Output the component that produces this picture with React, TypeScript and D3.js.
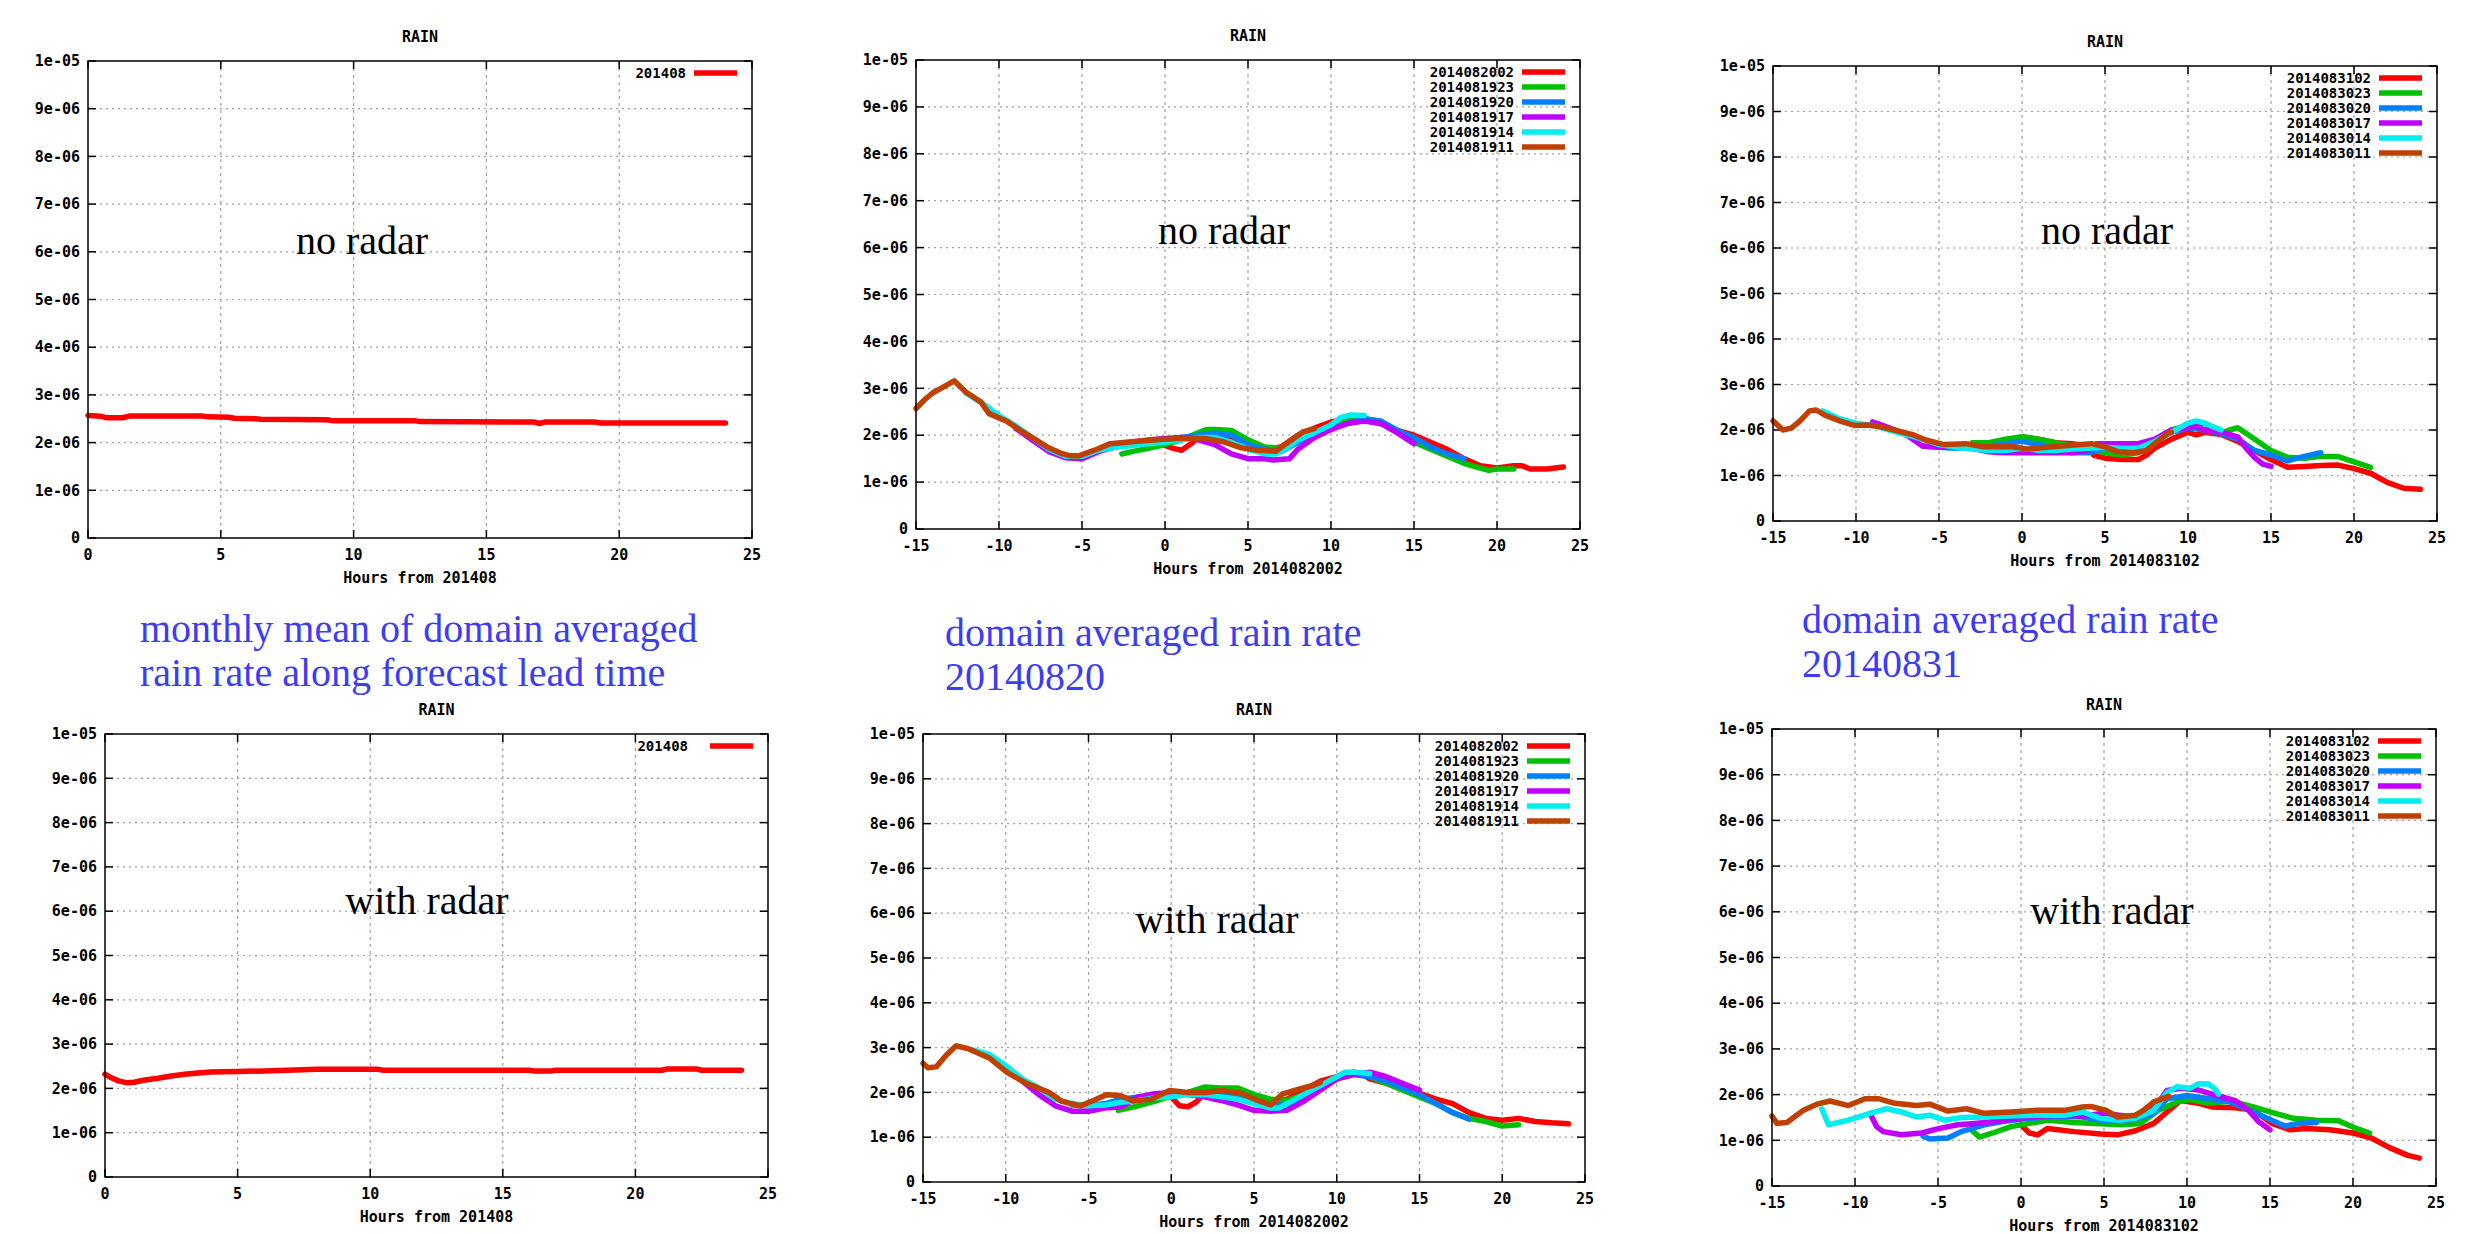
import React from 'react';
import * as d3 from 'd3';

type Pt = [number, number];

// rain rate values are in units of 1e-06, hours from the run start
const yTicks = [0, 1, 2, 3, 4, 5, 6, 7, 8, 9, 10];
const yTickLabels = ['0', '1e-06', '2e-06', '3e-06', '4e-06', '5e-06', '6e-06', '7e-06', '8e-06', '9e-06', '1e-05'];
const monthTicks = [0, 5, 10, 15, 20, 25];
const caseTicks = [-15, -10, -5, 0, 5, 10, 15, 20, 25];

const monthNames = ['201408'];
const aug20Names = ['2014082002', '2014081923', '2014081920', '2014081917', '2014081914', '2014081911'];
const aug31Names = ['2014083102', '2014083023', '2014083020', '2014083017', '2014083014', '2014083011'];
const colors = ['#ff0000', '#00c000', '#0080ff', '#c000ff', '#00eeee', '#c04000'];

const monthNo: Pt[] = [[0, 2.57], [0.5, 2.55], [0.7, 2.52], [1.3, 2.52], [1.6, 2.56], [4.3, 2.56], [4.5, 2.54], [5.3, 2.53], [5.5, 2.51], [6.3, 2.5], [6.5, 2.49], [9, 2.48], [9.2, 2.46], [12.3, 2.46], [12.5, 2.44], [16.8, 2.43], [17, 2.4], [17.2, 2.43], [19.1, 2.43], [19.3, 2.41], [24, 2.41]];
const monthRadar: Pt[] = [[0, 2.32], [0.2, 2.25], [0.5, 2.17], [0.8, 2.13], [1.1, 2.14], [1.5, 2.19], [2, 2.23], [2.5, 2.28], [3, 2.32], [3.5, 2.35], [4, 2.37], [5, 2.38], [6.3, 2.4], [8, 2.43], [10.3, 2.43], [10.5, 2.41], [16, 2.41], [16.2, 2.39], [16.8, 2.39], [17, 2.41], [21, 2.41], [21.2, 2.44], [22.3, 2.44], [22.5, 2.41], [24, 2.41]];

// 20140820, no radar
const n20r02: Pt[] = [[0, 1.78], [0.5, 1.72], [1, 1.68], [1.5, 1.8], [2, 1.95], [3, 2.0], [4, 1.95], [5, 1.8], [6, 1.7], [7, 1.75], [8, 2.0], [9, 2.15], [10, 2.28], [11, 2.35], [12, 2.32], [13, 2.25], [14, 2.1], [15, 2.0], [16, 1.85], [17, 1.7], [18, 1.5], [19, 1.35], [20, 1.3], [21, 1.35], [21.5, 1.35], [22, 1.28], [23, 1.28], [24, 1.32]];
const n20r23: Pt[] = [[-2.6, 1.6], [-2, 1.65], [-1, 1.72], [0, 1.8], [1, 1.9], [2, 2.05], [2.5, 2.12], [3, 2.12], [4, 2.1], [5, 1.9], [6, 1.75], [7, 1.72], [8, 1.95], [9, 2.05], [10, 2.2], [11, 2.3], [12, 2.35], [13, 2.3], [14, 2.1], [15, 1.85], [16, 1.7], [17, 1.55], [18, 1.4], [19, 1.3], [19.5, 1.25], [20, 1.28], [21, 1.28]];
const n20r20: Pt[] = [[-6, 1.55], [-5, 1.5], [-4, 1.7], [-3, 1.78], [-2, 1.82], [-1, 1.88], [0, 1.9], [1, 1.95], [2, 2.0], [3, 2.05], [4, 2.0], [5, 1.8], [6, 1.7], [7, 1.65], [8, 1.85], [9, 2.05], [10, 2.15], [11, 2.25], [12, 2.35], [13, 2.3], [14, 2.1], [15, 1.95], [16, 1.75], [17, 1.6], [18, 1.5]];
const n20r17: Pt[] = [[-9, 2.15], [-8, 1.9], [-7, 1.65], [-6, 1.52], [-5, 1.5], [-4, 1.65], [-3, 1.75], [-2, 1.85], [-1, 1.9], [0, 1.93], [1, 1.95], [2, 1.9], [3, 1.8], [4, 1.6], [5, 1.5], [6, 1.5], [6.5, 1.47], [7.5, 1.5], [8, 1.7], [9, 1.95], [10, 2.12], [11, 2.25], [12, 2.3], [13, 2.25], [14, 2.05], [15, 1.82]];
const n20r14: Pt[] = [[-12, 2.9], [-11, 2.68], [-10, 2.42], [-9, 2.2], [-8, 1.95], [-7, 1.7], [-6, 1.55], [-5, 1.55], [-4, 1.68], [-3, 1.74], [-2, 1.78], [-1, 1.82], [0, 1.85], [1, 1.9], [2, 1.95], [3, 1.95], [4, 1.85], [5, 1.7], [6, 1.6], [6.7, 1.6], [7.3, 1.72], [8, 1.9], [9, 2.05], [10, 2.22], [10.6, 2.38], [11.2, 2.43], [12, 2.42]];
const n20r11: Pt[] = [[-15, 2.57], [-14.5, 2.75], [-14, 2.9], [-13.5, 3.0], [-12.7, 3.16], [-12, 2.92], [-11.1, 2.71], [-10.6, 2.46], [-9.5, 2.29], [-8.7, 2.1], [-8, 1.95], [-7.1, 1.75], [-6.3, 1.62], [-5.7, 1.56], [-5.2, 1.56], [-4.1, 1.7], [-3.3, 1.82], [-1.7, 1.87], [-0.3, 1.91], [1.3, 1.94], [2.4, 1.93], [3.5, 1.86], [4.6, 1.73], [5.6, 1.68], [6.7, 1.66], [7.3, 1.82], [8.3, 2.07], [9, 2.14]];

// 20140831, no radar
const n31r02: Pt[] = [[0, 1.85], [1, 1.8], [2, 1.72], [3, 1.7], [4, 1.65], [4.3, 1.45], [5, 1.38], [6, 1.35], [7, 1.35], [7.5, 1.45], [8, 1.6], [9, 1.8], [10, 1.95], [10.5, 1.89], [11, 1.95], [12, 1.9], [13, 1.75], [14, 1.55], [15, 1.35], [16, 1.18], [17, 1.2], [18, 1.22], [19, 1.23], [20, 1.15], [21, 1.05], [22, 0.85], [23, 0.72], [24, 0.7]];
const n31r23: Pt[] = [[-3, 1.72], [-2, 1.72], [-1, 1.8], [0, 1.85], [1, 1.8], [2, 1.72], [3, 1.65], [4, 1.58], [5, 1.5], [6, 1.45], [7, 1.5], [8, 1.75], [9, 2.0], [10, 2.1], [11, 2.15], [12, 1.92], [12.5, 2.0], [13, 2.05], [14, 1.8], [15, 1.55], [16, 1.4], [17, 1.38], [18, 1.42], [19, 1.42], [20, 1.3], [21, 1.18]];
const n31r20: Pt[] = [[-6, 1.65], [-5, 1.62], [-4, 1.6], [-3, 1.62], [-2, 1.65], [-1, 1.7], [0, 1.75], [1, 1.68], [2, 1.6], [3, 1.5], [4, 1.5], [5, 1.6], [6, 1.6], [7, 1.6], [8, 1.75], [9, 1.95], [10, 2.05], [11, 2.0], [12, 1.92], [13, 1.8], [14, 1.55], [15, 1.45], [16, 1.32], [17, 1.42], [18, 1.5]];
const n31r17: Pt[] = [[-9, 2.18], [-8, 2.05], [-7, 1.9], [-6, 1.65], [-5, 1.62], [-4, 1.62], [-3, 1.6], [-2, 1.52], [-1, 1.5], [0, 1.5], [1, 1.5], [2, 1.5], [3, 1.5], [4, 1.55], [4.5, 1.7], [5, 1.7], [6, 1.7], [7, 1.7], [8, 1.8], [9, 2.0], [10, 2.05], [10.5, 2.08], [11, 2.0], [12, 1.95], [13, 1.85], [13.5, 1.6], [14, 1.4], [14.5, 1.25], [15, 1.2]];
const n31r14: Pt[] = [[-12, 2.42], [-11, 2.25], [-10, 2.15], [-9, 2.1], [-8, 2.0], [-7, 1.9], [-6, 1.8], [-5, 1.68], [-4, 1.62], [-3, 1.58], [-2, 1.55], [-1, 1.55], [0, 1.6], [1, 1.55], [2, 1.55], [3, 1.58], [4, 1.6], [5, 1.62], [6, 1.6], [7, 1.6], [8, 1.75], [9, 1.95], [10, 2.15], [10.5, 2.2], [11, 2.15], [12, 2.0]];
const n31r11: Pt[] = [[-15, 2.2], [-14.4, 2.0], [-13.9, 2.04], [-13.4, 2.19], [-12.8, 2.42], [-12.4, 2.44], [-11.9, 2.33], [-10.9, 2.19], [-10.1, 2.1], [-9.3, 2.11], [-8.5, 2.07], [-7.7, 2.0], [-6.6, 1.9], [-5.8, 1.78], [-4.7, 1.68], [-3.4, 1.7], [-2.3, 1.63], [-0.6, 1.63], [0.4, 1.58], [1.5, 1.62], [3.1, 1.67], [4.2, 1.7], [5, 1.63], [5.8, 1.52], [6.7, 1.5], [7.5, 1.55], [8, 1.7], [8.8, 1.93], [9, 1.95]];

// 20140820, with radar
const w20r02: Pt[] = [[0, 1.9], [0.5, 1.7], [1, 1.68], [1.5, 1.78], [2, 1.98], [3, 2.0], [4, 1.95], [5, 1.85], [6, 1.78], [7, 1.85], [8, 2.05], [9, 2.25], [10, 2.35], [11, 2.45], [11.5, 2.42], [12, 2.3], [13, 2.2], [14, 2.1], [15, 1.98], [16, 1.85], [17, 1.75], [18, 1.55], [19, 1.42], [20, 1.38], [21, 1.42], [22, 1.35], [23, 1.32], [24, 1.3]];
const w20r23: Pt[] = [[-3.2, 1.6], [-2, 1.7], [-1, 1.8], [0, 1.92], [1, 2.0], [2, 2.12], [3, 2.1], [4, 2.1], [5, 1.95], [6, 1.85], [7, 1.82], [8, 1.95], [9, 2.1], [10, 2.3], [11, 2.45], [12, 2.35], [13, 2.2], [14, 2.05], [15, 1.9], [16, 1.75], [17, 1.55], [18, 1.42], [19, 1.35], [20, 1.25], [21, 1.28]];
const w20r20: Pt[] = [[-6, 1.72], [-5, 1.7], [-4, 1.75], [-3, 1.85], [-2, 1.9], [-1, 1.92], [0, 1.95], [1, 1.98], [2, 2.0], [3, 1.98], [4, 1.92], [5, 1.8], [6, 1.72], [7, 1.72], [8, 1.9], [9, 2.1], [10, 2.3], [11, 2.4], [12, 2.35], [13, 2.25], [14, 2.1], [15, 1.95], [16, 1.75], [17, 1.55], [18, 1.4]];
const w20r17: Pt[] = [[-9, 2.25], [-8, 1.95], [-7, 1.7], [-6, 1.58], [-5, 1.58], [-4, 1.65], [-3, 1.68], [-2, 1.9], [-1, 1.97], [0, 2.0], [1, 1.95], [2, 1.9], [3, 1.82], [4, 1.72], [5, 1.6], [6, 1.58], [7, 1.6], [8, 1.8], [9, 2.05], [10, 2.3], [11, 2.4], [12, 2.45], [13, 2.35], [14, 2.2], [15, 2.05]];
const w20r14: Pt[] = [[-12, 2.95], [-11, 2.85], [-10, 2.6], [-9, 2.3], [-8, 2.1], [-7, 1.85], [-6, 1.75], [-5, 1.7], [-4, 1.72], [-3, 1.78], [-2, 1.82], [-1, 1.88], [0, 1.9], [1, 1.95], [2, 1.95], [3, 1.9], [4, 1.85], [5, 1.75], [6, 1.65], [6.5, 1.65], [7, 1.75], [8, 1.95], [9, 2.15], [10, 2.35], [10.5, 2.45], [11, 2.45], [12, 2.42]];
const w20r11: Pt[] = [[-15, 2.65], [-14.7, 2.55], [-14.2, 2.57], [-13.6, 2.83], [-13, 3.04], [-12.3, 2.98], [-11, 2.77], [-9.9, 2.44], [-8.8, 2.21], [-7.4, 2.0], [-6.6, 1.8], [-5.5, 1.7], [-4.7, 1.82], [-3.9, 1.95], [-3.1, 1.93], [-2.3, 1.81], [-1.2, 1.85], [-0.1, 2.04], [1, 2.0], [2.1, 2.0], [3.1, 2.04], [4.2, 1.98], [5.3, 1.81], [6, 1.72], [6.7, 1.96], [7.5, 2.05], [8.6, 2.16], [9, 2.22]];

// 20140831, with radar
const w31r02: Pt[] = [[0, 1.34], [0.5, 1.16], [1, 1.12], [1.6, 1.26], [3.2, 1.19], [4.8, 1.14], [5.8, 1.12], [6.9, 1.21], [8, 1.37], [8.8, 1.62], [9.6, 1.87], [10.7, 1.81], [11.5, 1.73], [12.9, 1.71], [14, 1.66], [15.1, 1.37], [16.2, 1.23], [17.2, 1.26], [18.6, 1.23], [20, 1.16], [21.1, 1.05], [22.2, 0.84], [23.3, 0.67], [24, 0.61]];
const w31r23: Pt[] = [[-3, 1.23], [-2.5, 1.07], [-1.7, 1.16], [-0.6, 1.3], [0.5, 1.37], [1.6, 1.44], [3.2, 1.39], [4.8, 1.36], [6.1, 1.34], [7.2, 1.37], [8.3, 1.66], [9.4, 1.84], [10.2, 1.89], [11.3, 1.81], [12.6, 1.86], [14, 1.73], [15.3, 1.59], [16.4, 1.48], [17.8, 1.44], [19.1, 1.43], [20.2, 1.26], [21, 1.16]];
const w31r20: Pt[] = [[-5.9, 1.09], [-5.5, 1.03], [-4.4, 1.05], [-3.6, 1.19], [-2.2, 1.34], [-1.1, 1.41], [0.5, 1.48], [2.1, 1.53], [3.7, 1.51], [4.8, 1.44], [5.8, 1.43], [6.9, 1.46], [8, 1.59], [8.8, 1.91], [10, 1.98], [11.3, 1.91], [12.6, 1.84], [14, 1.62], [15.1, 1.44], [15.9, 1.31], [16.7, 1.37], [17.8, 1.39]];
const w31r17: Pt[] = [[-9.1, 1.59], [-8.7, 1.3], [-8.3, 1.19], [-7.2, 1.12], [-6, 1.16], [-4.9, 1.26], [-3.8, 1.34], [-2.8, 1.37], [-1.1, 1.43], [0.5, 1.51], [2.1, 1.55], [3.7, 1.53], [5, 1.59], [6.7, 1.51], [8, 1.69], [8.8, 2.09], [9.6, 2.14], [10.7, 2.1], [11.8, 1.98], [12.9, 1.87], [13.7, 1.66], [14.3, 1.41], [15, 1.23]];
const w31r14: Pt[] = [[-12, 1.69], [-11.6, 1.34], [-10.4, 1.44], [-9.1, 1.59], [-8.1, 1.69], [-7.2, 1.62], [-6.3, 1.51], [-5.5, 1.55], [-4.6, 1.44], [-3.6, 1.5], [-2.2, 1.51], [-0.6, 1.53], [1, 1.55], [2.7, 1.55], [3.7, 1.62], [4.8, 1.48], [5.8, 1.44], [6.9, 1.48], [8, 1.66], [8.8, 2.05], [9.4, 2.17], [10.2, 2.14], [10.7, 2.24], [11.3, 2.23], [11.7, 2.12], [11.9, 2.01]];
const w31r11: Pt[] = [[-15, 1.53], [-14.7, 1.37], [-14.1, 1.39], [-13.1, 1.66], [-12.3, 1.79], [-11.5, 1.86], [-10.4, 1.76], [-9.4, 1.91], [-8.6, 1.91], [-7.6, 1.81], [-6.3, 1.76], [-5.5, 1.79], [-4.4, 1.64], [-3.3, 1.69], [-2.2, 1.59], [-0.6, 1.62], [1, 1.66], [2.7, 1.66], [3.7, 1.73], [4.2, 1.74], [5.1, 1.66], [5.8, 1.51], [6.9, 1.55], [7.4, 1.66], [8, 1.84], [8.9, 1.96]];

const tickFont = '"DejaVu Sans Mono", monospace';
const serif = '"Liberation Serif", "Times New Roman", serif';
const blue = '#3c3cf2';

const panels = [
  { left: 88, right: 752, top: 61, bottom: 538, ticks: monthTicks, names: monthNames, series: [monthNo], xlabel: 'Hours from 201408', tag: 'no radar', tagX: 362, tagY: 254, legGap: 8 },
  { left: 916, right: 1580, top: 60, bottom: 529, ticks: caseTicks, names: aug20Names, series: [n20r02, n20r23, n20r20, n20r17, n20r14, n20r11], xlabel: 'Hours from 2014082002', tag: 'no radar', tagX: 1224, tagY: 244, legGap: 8 },
  { left: 1773, right: 2437, top: 66, bottom: 521, ticks: caseTicks, names: aug31Names, series: [n31r02, n31r23, n31r20, n31r17, n31r14, n31r11], xlabel: 'Hours from 2014083102', tag: 'no radar', tagX: 2107, tagY: 244, legGap: 8 },
  { left: 105, right: 768, top: 734, bottom: 1177, ticks: monthTicks, names: monthNames, series: [monthRadar], xlabel: 'Hours from 201408', tag: 'with radar', tagX: 427, tagY: 914, legGap: 22 },
  { left: 923, right: 1585, top: 734, bottom: 1182, ticks: caseTicks, names: aug20Names, series: [w20r02, w20r23, w20r20, w20r17, w20r14, w20r11], xlabel: 'Hours from 2014082002', tag: 'with radar', tagX: 1217, tagY: 933, legGap: 8 },
  { left: 1772, right: 2436, top: 729, bottom: 1186, ticks: caseTicks, names: aug31Names, series: [w31r02, w31r23, w31r20, w31r17, w31r14, w31r11], xlabel: 'Hours from 2014083102', tag: 'with radar', tagX: 2112, tagY: 924, legGap: 8 },
];

const captions = [
  { x: 140, y: 642, lines: ['monthly mean of domain averaged', 'rain rate along forecast lead time'] },
  { x: 945, y: 646, lines: ['domain averaged rain rate', '20140820'] },
  { x: 1802, y: 633, lines: ['domain averaged rain rate', '20140831'] },
];

const Panel = ({ p }: { p: typeof panels[0] }) => {
  const x = d3.scaleLinear().domain([p.ticks[0], p.ticks[p.ticks.length - 1]]).range([p.left, p.right]);
  const y = d3.scaleLinear().domain([0, 10]).range([p.bottom, p.top]);
  const line = d3.line<Pt>().x((d) => x(d[0])).y((d) => y(d[1]));
  const cx = (p.left + p.right) / 2;
  return (
    <g>
      <text x={cx} y={p.top - 19} textAnchor="middle" fontFamily={tickFont} fontWeight="bold" fontSize={15}>RAIN</text>
      {p.ticks.slice(1, -1).map((t) => (
        <line key={'gx' + t} x1={x(t)} x2={x(t)} y1={p.top} y2={p.bottom} stroke="#a0a0a0" strokeWidth={1.2} strokeDasharray="3,4" />
      ))}
      {yTicks.slice(1, -1).map((t) => (
        <line key={'gy' + t} x1={p.left} x2={p.right} y1={y(t)} y2={y(t)} stroke="#a0a0a0" strokeWidth={1.2} strokeDasharray="2,4" />
      ))}
      {yTicks.map((t, i) => (
        <g key={'ty' + t}>
          <line x1={p.left} x2={p.left + 8} y1={y(t)} y2={y(t)} stroke="#000" strokeWidth={1.5} />
          <line x1={p.right - 8} x2={p.right} y1={y(t)} y2={y(t)} stroke="#000" strokeWidth={1.5} />
          <text x={p.left - 8} y={y(t)} dy="0.35em" textAnchor="end" fontFamily={tickFont} fontWeight="bold" fontSize={15}>{yTickLabels[i]}</text>
        </g>
      ))}
      {p.ticks.map((t) => (
        <g key={'tx' + t}>
          <line x1={x(t)} x2={x(t)} y1={p.bottom} y2={p.bottom - 8} stroke="#000" strokeWidth={1.5} />
          <line x1={x(t)} x2={x(t)} y1={p.top} y2={p.top + 8} stroke="#000" strokeWidth={1.5} />
          <text x={x(t)} y={p.bottom + 17} dy="0.35em" textAnchor="middle" fontFamily={tickFont} fontWeight="bold" fontSize={15}>{t}</text>
        </g>
      ))}
      <text x={cx} y={p.bottom + 40} dy="0.35em" textAnchor="middle" fontFamily={tickFont} fontWeight="bold" fontSize={15}>{p.xlabel}</text>
      <text x={p.tagX} y={p.tagY} textAnchor="middle" fontFamily={serif} fontSize={40}>{p.tag}</text>
      {p.series.map((s, i) => (
        <path key={'s' + i} d={line(s) || ''} fill="none" stroke={colors[i]} strokeWidth={5.5} strokeLinejoin="round" strokeLinecap="round" />
      ))}
      {p.names.map((n, i) => {
        const ly = p.top + 12 + i * 15;
        return (
          <g key={'l' + n}>
            <text x={p.right - 58 - p.legGap} y={ly} dy="0.35em" textAnchor="end" fontFamily={tickFont} fontWeight="bold" fontSize={14}>{n}</text>
            <line x1={p.right - 58} x2={p.right - 15} y1={ly} y2={ly} stroke={colors[i]} strokeWidth={5.5} />
          </g>
        );
      })}
      <rect x={p.left} y={p.top} width={p.right - p.left} height={p.bottom - p.top} fill="none" stroke="#000" strokeWidth={1.5} />
    </g>
  );
};

const App = () => {
  return (
    <svg width={2480} height={1234} style={{ position: 'absolute', left: 0, top: 0, background: '#fff' }}>
      <rect width={2480} height={1234} fill="#fff" />
      {panels.map((p, i) => <Panel key={i} p={p} />)}
      {captions.map((c, i) => (
        <text key={'c' + i} x={c.x} y={c.y} fill={blue} fontFamily={serif} fontSize={40}>
          {c.lines.map((l, j) => (
            <tspan key={j} x={c.x} dy={j === 0 ? 0 : 44}>{l}</tspan>
          ))}
        </text>
      ))}
    </svg>
  );
};

export default App;
